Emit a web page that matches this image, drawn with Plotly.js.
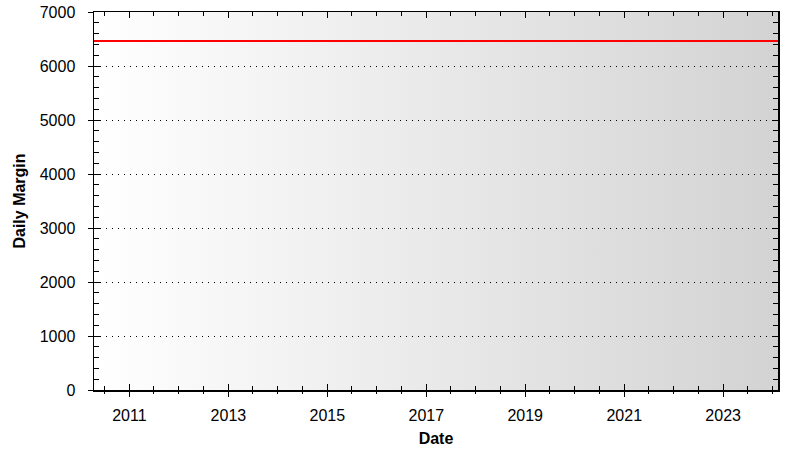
<!DOCTYPE html>
<html><head><meta charset="utf-8">
<script src="https://cdn.plot.ly/plotly-3.0.1.min.js"></script>
<style>
html,body{margin:0;padding:0;background:#fff;}
#wrap{position:relative;width:812px;height:462px;}
#bg{position:absolute;left:94px;top:12px;width:684px;height:378px;background:linear-gradient(to right,#ffffff,#d3d3d3);}
#chart{position:absolute;left:0;top:0;width:812px;height:462px;}
</style></head>
<body><div id="wrap"><div id="bg"></div><div id="chart"></div></div>
<script>
const dates = ['2010-04-15', '2024-02-10'];
const margin = [6465, 6465];
const xRange = ['2010-04-15', '2024-02-10'];
const yRange = [0, 7000];

const font = {family: 'Liberation Sans, Arial, sans-serif', size: 16, color: '#000'};
const axBase = {showline: true, linecolor: '#000', linewidth: 1.5, mirror: 'ticks', ticks: 'inside', tickcolor: '#000', tickwidth: 1, zeroline: false};

const layout = {
  width: 812, height: 462,
  margin: {l: 94, r: 34, t: 12, b: 72, pad: 0},
  paper_bgcolor: 'rgba(0,0,0,0)', plot_bgcolor: 'rgba(0,0,0,0)',
  font: font, showlegend: false,
  xaxis: Object.assign({}, axBase, {
    type: 'date', range: xRange, tickformat: '%Y',
    tick0: '2011-01-01', dtick: 'M24', ticklen: 6,
    minor: {dtick: 'M6', tick0: '2011-01-01', ticks: 'inside', ticklen: 4, tickcolor: '#000', showgrid: false},
    showgrid: false, ticklabelstandoff: 10,
    title: {text: 'Date', font: {family: font.family, size: 16, color: '#000', weight: 'bold'}, standoff: 10}
  }),
  yaxis: Object.assign({}, axBase, {
    range: yRange, dtick: 1000, tick0: 0, ticklen: 6,
    minor: {dtick: 200, ticks: 'inside', ticklen: 5, tickcolor: '#000', showgrid: false},
    showgrid: true, gridcolor: '#000', gridwidth: 1, griddash: '1px,5px',
    ticklabelstandoff: 14,
    title: {text: 'Daily Margin', font: {family: font.family, size: 16, color: '#000', weight: 'bold'}, standoff: 10}
  }),
  xaxis2: {overlaying: 'x', anchor: 'y2', side: 'bottom', type: 'date', range: xRange,
    tick0: '2011-01-01', dtick: 'M24', ticks: 'outside', ticklen: 6, tickcolor: '#000', tickwidth: 1,
    minor: {dtick: 'M6', tick0: '2011-01-01', ticks: 'outside', ticklen: 3, tickcolor: '#000'},
    showticklabels: false, showgrid: false, showline: false, zeroline: false},
  yaxis2: {overlaying: 'y', anchor: 'x2', side: 'left', range: yRange, dtick: 1000,
    ticks: 'outside', ticklen: 5, tickcolor: '#000', tickwidth: 1,
    showticklabels: false, showgrid: false, showline: false, zeroline: false}
};

const traces = [
  {x: dates, y: margin, type: 'scatter', mode: 'lines', line: {color: '#ff0000', width: 2}, hoverinfo: 'skip'},
  {x: [], y: [], xaxis: 'x2', yaxis: 'y2', type: 'scatter', mode: 'lines', hoverinfo: 'skip'}
];

Plotly.newPlot('chart', traces, layout, {staticPlot: true});
</script></body></html>
